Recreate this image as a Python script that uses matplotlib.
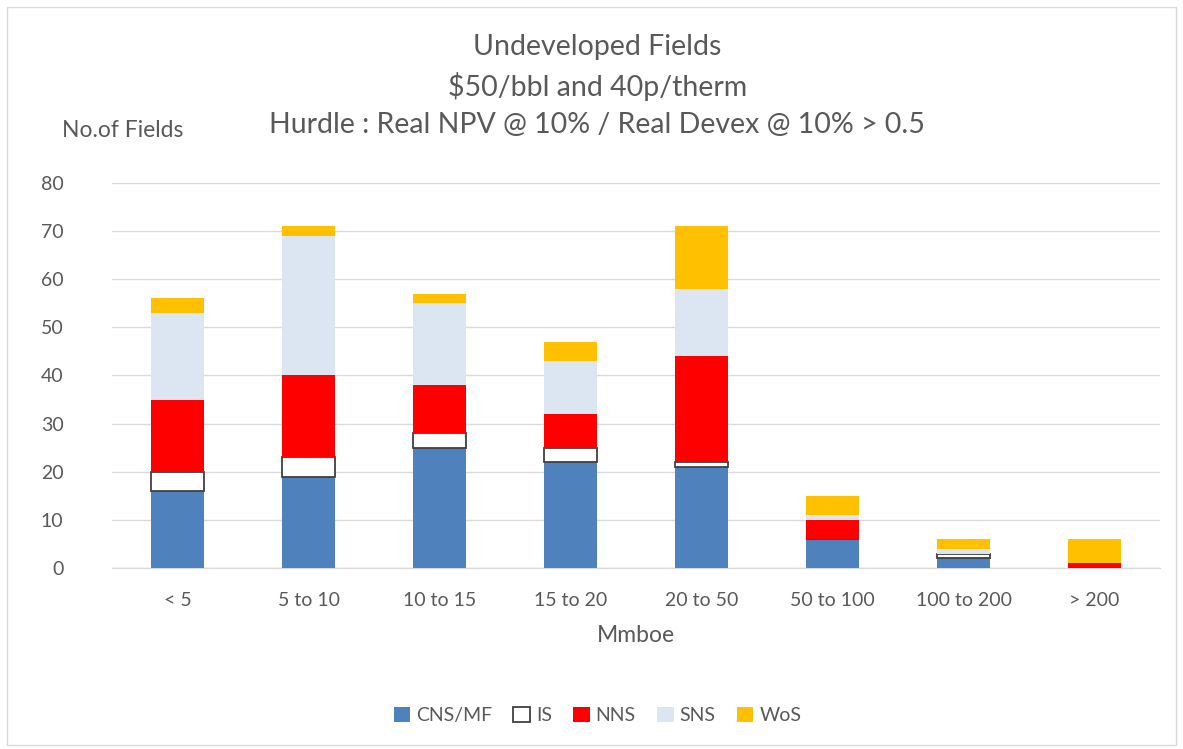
import matplotlib.pyplot as plt
import numpy as np
from matplotlib.patches import Rectangle

plt.rcParams['font.family'] = ['Lato', 'DejaVu Sans']

categories = ["< 5", "5 to 10", "10 to 15", "15 to 20", "20 to 50",
              "50 to 100", "100 to 200", "> 200"]
cns_mf = [16, 19, 25, 22, 21, 6, 2, 0]
is_ = [4, 4, 3, 3, 1, 0, 1, 0]
nns = [15, 17, 10, 7, 22, 4, 0, 1]
sns = [18, 29, 17, 11, 14, 1, 1, 0]
wos = [3, 2, 2, 4, 13, 4, 2, 5]

series = [
    ("CNS/MF", cns_mf, "#4F81BD", "#4F81BD"),
    ("IS", is_, "white", "#404040"),
    ("NNS", nns, "#FF0000", "#FF0000"),
    ("SNS", sns, "#DCE6F2", "#DCE6F2"),
    ("WoS", wos, "#FFC000", "#FFC000"),
]

text_col = "#595959"
fig = plt.figure(figsize=(11.83, 7.49), dpi=100)
fig.patches.append(Rectangle((0.006, 0.006), 0.988, 0.985, transform=fig.transFigure,
                             fill=False, edgecolor="#D9D9D9", linewidth=1))
ax = fig.add_axes([0.0947, 0.2417, 0.886, 0.514])

x = np.arange(len(categories))
bottom = np.zeros(len(categories))
for name, vals, color, edge in series:
    vals = np.array(vals, dtype=float)
    lw = 1.3 if name == "IS" else 0
    ax.bar(x, vals, 0.40, bottom=bottom, color=color, edgecolor=edge,
           linewidth=lw, label=name, zorder=3)
    bottom += vals

ax.set_ylim(0, 80)
ax.set_xlim(-0.5, len(categories) - 0.5)
ax.set_yticks(range(0, 81, 10))
ax.set_xticks(x)
ax.set_xticklabels(categories)
ax.grid(axis="y", color="#D9D9D9", linewidth=1, zorder=0)
for side in ("top", "right", "left"):
    ax.spines[side].set_visible(False)
ax.spines["bottom"].set_color("#D9D9D9")
ax.spines["bottom"].set_linewidth(1)
ax.tick_params(axis="both", length=0, labelsize=14, labelcolor=text_col)
ax.tick_params(axis="x", pad=17)
ax.tick_params(axis="y", pad=35)

ax.set_xlabel("Mmboe", fontsize=16.5, color=text_col, labelpad=12)
fig.text(0.052, 0.826, "No.of Fields", fontsize=16.5, color=text_col, va="center")

fig.text(0.505, 0.937, "Undeveloped Fields", fontsize=20.5, color=text_col, ha="center", va="center")
fig.text(0.505, 0.884, "$50/bbl and 40p/therm", fontsize=20.5, color=text_col, ha="center", va="center")
fig.text(0.505, 0.833, "Hurdle : Real NPV @ 10% / Real Devex @ 10% > 0.5", fontsize=20.5,
         color=text_col, ha="center", va="center")

leg = fig.legend(loc="center", bbox_to_anchor=(0.505, 0.045), ncol=5, frameon=False,
                 fontsize=14, handlelength=0.85, handleheight=0.85, handletextpad=0.3,
                 columnspacing=1.1)
for t in leg.get_texts():
    t.set_color(text_col)

fig.savefig("out.png", dpi=100)
